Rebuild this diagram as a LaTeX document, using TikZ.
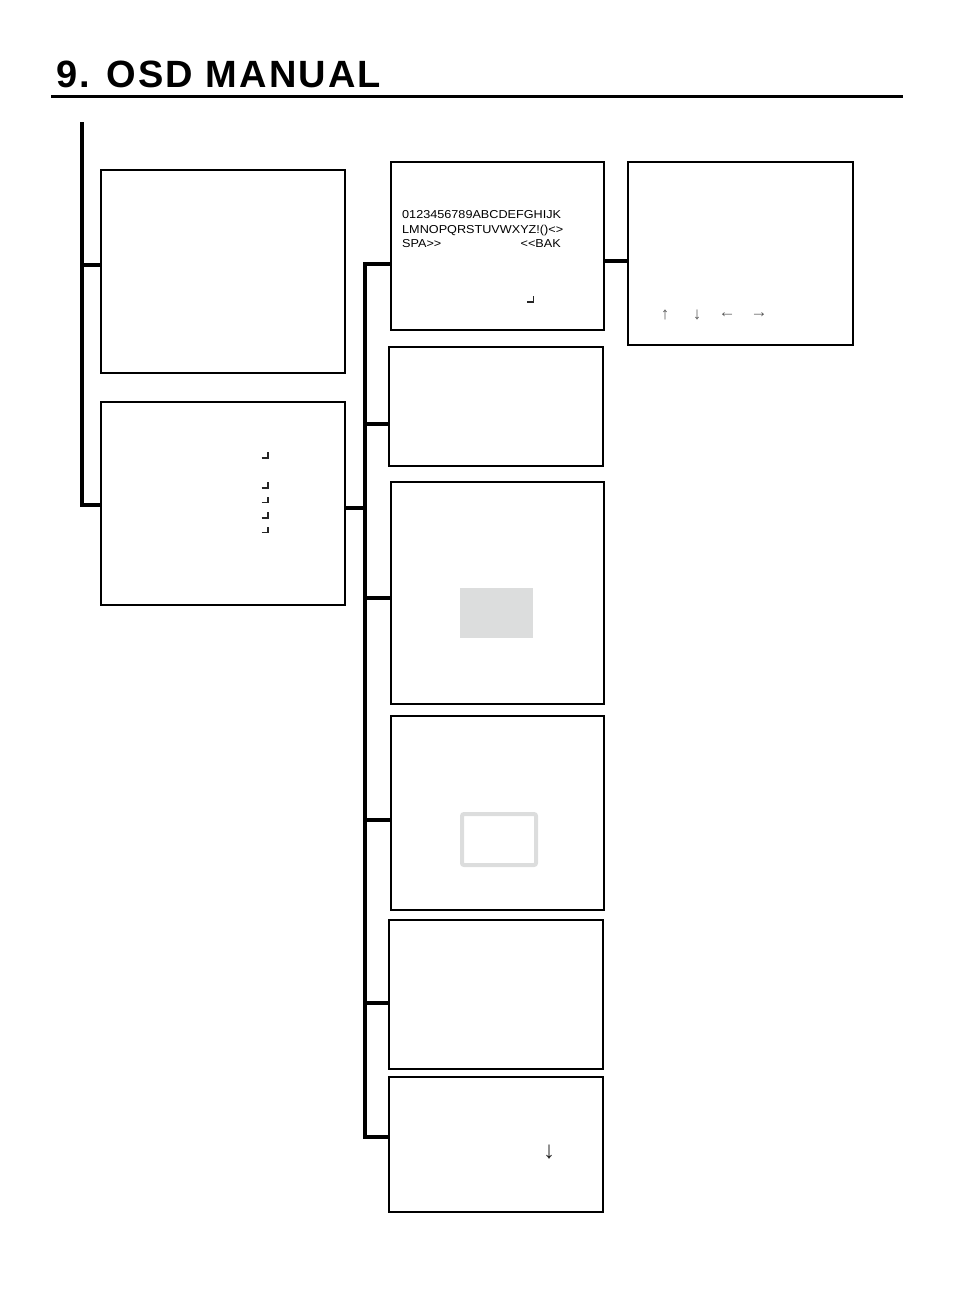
\documentclass[tikz,border=0pt]{standalone}
\usepackage{fontspec}
\setmainfont{Liberation Sans}
\newfontfamily\titlefont[LetterSpace=5.5]{Liberation Sans Bold}
\newfontfamily\osdfont[FakeStretch=1.1]{Liberation Sans}
\definecolor{osdgray}{RGB}{220,221,221}
\begin{document}
\begin{tikzpicture}[x=1pt,y=-1pt,
  box/.style={draw,line width=2.5pt,inner sep=0pt},
  conn/.style={line width=3.5pt},
  retline/.style={line width=1.3pt,black!85},
  osdtext/.style={anchor=base west,inner sep=0pt,font=\osdfont\fontsize{11.5}{14}\selectfont},
  arrowtxt/.style={inner sep=0pt,text=black!65,font=\fontsize{17}{17}\selectfont}
]
\useasboundingbox (0,0) rectangle (954,1310);

% title
\node[anchor=base west,inner sep=0pt] (title) at (56,87) {\titlefont\fontsize{38}{40}\selectfont 9. OSD MANUAL};
\coordinate (ruleL) at (51,96.5);
\coordinate (ruleR) at (903,96.5);
\draw[line width=3pt] (ruleL) -- (ruleR);

% boxes
\node[box,minimum width=244pt,minimum height=203pt] (b1) at (223,271.5) {};
\node[box,minimum width=244pt,minimum height=203pt] (b2) at (223,503.5) {};
\node[box,minimum width=213pt,minimum height=168pt] (b3) at (497.5,246) {};
\node[box,minimum width=214pt,minimum height=119pt] (b4) at (496,406.5) {};
\node[box,minimum width=213pt,minimum height=222pt] (b5) at (497.5,593) {};
\node[box,minimum width=213pt,minimum height=194pt] (b6) at (497.5,813) {};
\node[box,minimum width=214pt,minimum height=149pt] (b7) at (496,994.5) {};
\node[box,minimum width=214pt,minimum height=135pt] (b8) at (496,1144.5) {};
\node[box,minimum width=225pt,minimum height=183pt] (b9) at (740.5,253.5) {};

% left trunk
\coordinate (t1top) at (82,122);
\coordinate (j1) at (82,265);
\coordinate (j2) at (82,505);
\draw[conn] (t1top) -- (j2) -- (j2 -| b2.west);
\draw[conn] (j1) -- (j1 -| b1.west);

% second trunk
\coordinate (k0) at (365,508);
\coordinate (k3) at (365,264);
\coordinate (k4) at (365,424);
\coordinate (k5) at (365,598);
\coordinate (k6) at (365,820);
\coordinate (k7) at (365,1003);
\coordinate (k8) at (365,1137);
\draw[conn] (k0 -| b2.east) -- (k0);
\draw[conn] (k3 -| b3.west) -- (k3) -- (k8) -- (k8 -| b8.west);
\draw[conn] (k4) -- (k4 -| b4.west);
\draw[conn] (k5) -- (k5 -| b5.west);
\draw[conn] (k6) -- (k6 -| b6.west);
\draw[conn] (k7) -- (k7 -| b7.west);

% box3 -> box9
\coordinate (m9) at (616,261);
\draw[conn] (m9 -| b3.east) -- (m9 -| b9.west);

% box3 content
\node[osdtext] (c1) at (402,218.5) {0123456789ABCDEFGHIJK};
\node[osdtext] (c2) at (402,233.5) {LMNOPQRSTUVWXYZ!()<>};
\node[osdtext] (c3) at (402,247) {SPA>>};
\node[osdtext,anchor=base east] (c4) at (561,247) {<<BAK};
\draw[retline] (527,302) -- (533.5,302) -- (533.5,296);

% box2 return marks
\draw[retline] (261.5,458) -- (268,458) -- (268,452);
\draw[retline] (261.5,488) -- (268,488) -- (268,482);
\draw[retline] (261.5,502.5) -- (268,502.5) -- (268,496.5);
\draw[retline] (261.5,518) -- (268,518) -- (268,512);
\draw[retline] (261.5,532.5) -- (268,532.5) -- (268,526.5);

% box9 arrows
\node[arrowtxt] (au) at (665,315) {↑};
\node[arrowtxt] (ad) at (697,315) {↓};
\node[arrowtxt] (al) at (727,315) {←};
\node[arrowtxt] (ar) at (759,315) {→};

% box5 filled area
\fill[osdgray] (460,588) rectangle (533,638);

% box6 outlined area
\draw[osdgray,line width=4pt,rounded corners=2pt] (462,814) rectangle (536,865);

% box8 arrow
\node[inner sep=0pt,text=black!85,font=\fontsize{24}{24}\selectfont] (bd) at (549,1152) {↓};
\end{tikzpicture}
\end{document}
